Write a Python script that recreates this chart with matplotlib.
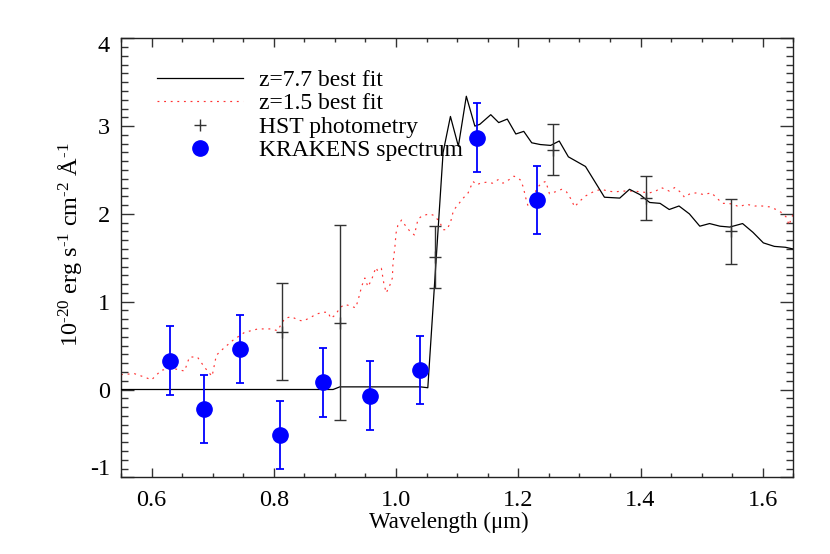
import matplotlib
matplotlib.use("Agg")
import matplotlib.pyplot as plt
from matplotlib.lines import Line2D
from matplotlib.ticker import MultipleLocator, FixedLocator, FormatStrFormatter
from matplotlib.transforms import ScaledTranslation

# ---------------- data ----------------
z77_wave = [0.55, 0.897, 0.908, 1.040, 1.052, 1.077, 1.089, 1.102, 1.115, 1.129,
            1.137, 1.155, 1.168, 1.182, 1.196, 1.209, 1.222, 1.236, 1.253, 1.267,
            1.282, 1.310, 1.341, 1.366, 1.382, 1.399, 1.415, 1.432, 1.447, 1.463,
            1.480, 1.497, 1.513, 1.530, 1.546, 1.567, 1.584, 1.601, 1.619, 1.637, 1.650]
z77_flux = [0.00, 0.00, 0.03, 0.03, 0.02, 2.70, 3.11, 2.77, 3.34, 3.00,
            3.02, 3.13, 3.04, 3.08, 2.91, 2.94, 2.81, 2.79, 2.78, 2.83,
            2.65, 2.54, 2.19, 2.18, 2.28, 2.22, 2.13, 2.12, 2.05, 2.09,
            2.00, 1.86, 1.89, 1.86, 1.85, 1.89, 1.79, 1.67, 1.63, 1.62, 1.60]

z15_wave = [0.550, 0.572, 0.589, 0.600, 0.616, 0.635, 0.654, 0.662, 0.675, 0.687,
            0.699, 0.706, 0.718, 0.733, 0.752, 0.774, 0.796, 0.806, 0.818, 0.829,
            0.840, 0.848, 0.860, 0.870, 0.881, 0.889, 0.893, 0.901, 0.908, 0.916,
            0.926, 0.934, 0.938, 0.944, 0.949, 0.954, 0.960, 0.967, 0.970, 0.976,
            0.980, 0.984, 0.990, 0.994, 0.995, 0.998, 1.000, 1.003, 1.009, 1.016,
            1.023, 1.030, 1.033, 1.036, 1.043, 1.055, 1.063, 1.072, 1.077, 1.083,
            1.089, 1.094, 1.102, 1.110, 1.118, 1.126, 1.132, 1.138, 1.147, 1.158,
            1.167, 1.175, 1.185, 1.193, 1.203, 1.208, 1.213, 1.216, 1.222, 1.230,
            1.238, 1.245, 1.251, 1.260, 1.271, 1.279, 1.287, 1.292, 1.300, 1.309,
            1.317, 1.325, 1.336, 1.347, 1.358, 1.369, 1.379, 1.390, 1.401, 1.415,
            1.425, 1.434, 1.447, 1.456, 1.465, 1.472, 1.481, 1.492, 1.503, 1.516,
            1.525, 1.534, 1.543, 1.552, 1.561, 1.573, 1.587, 1.599, 1.611, 1.622,
            1.632, 1.639, 1.643, 1.647, 1.650]
z15_flux = [0.17, 0.18, 0.14, 0.11, 0.22, 0.24, 0.21, 0.37, 0.37, 0.25,
            0.15, 0.39, 0.47, 0.56, 0.65, 0.69, 0.69, 0.67, 0.81, 0.83,
            0.79, 0.78, 0.82, 0.86, 0.88, 0.88, 0.81, 0.85, 0.93, 0.97,
            0.95, 0.93, 1.02, 1.18, 1.27, 1.17, 1.25, 1.39, 1.35, 1.38,
            1.21, 1.10, 1.19, 1.27, 1.44, 1.61, 1.78, 1.87, 1.93, 1.86,
            1.80, 1.76, 1.85, 1.94, 1.98, 2.00, 1.98, 1.90, 1.82, 1.82,
            1.90, 2.04, 2.11, 2.18, 2.24, 2.37, 2.33, 2.35, 2.36, 2.35,
            2.39, 2.35, 2.39, 2.43, 2.39, 2.31, 2.16, 2.09, 2.10, 2.29,
            2.35, 2.37, 2.23, 2.25, 2.28, 2.25, 2.16, 2.08, 2.14, 2.20,
            2.23, 2.26, 2.28, 2.26, 2.25, 2.26, 2.26, 2.26, 2.25, 2.24,
            2.26, 2.30, 2.26, 2.30, 2.25, 2.19, 2.23, 2.24, 2.22, 2.24,
            2.18, 2.12, 2.12, 2.11, 2.08, 2.11, 2.09, 2.09, 2.08, 2.05,
            2.01, 1.96, 1.87, 1.96, 1.99]

hst_wave = [0.814, 0.908, 1.064, 1.257, 1.409, 1.548]
hst_flux = [0.66, 0.76, 1.51, 2.73, 2.18, 1.80]
hst_err = [0.55, 1.11, 0.35, 0.29, 0.25, 0.37]

kr_wave = [0.630, 0.686, 0.745, 0.810, 0.880, 0.957, 1.040, 1.133, 1.231]
kr_flux = [0.33, -0.22, 0.46, -0.52, 0.08, -0.07, 0.22, 2.87, 2.16]
kr_err = [0.39, 0.39, 0.39, 0.39, 0.39, 0.39, 0.39, 0.39, 0.39]

y_ticks = [-1, 0, 1, 2, 3, 4]
legend_labels = ["z=7.7 best fit", "z=1.5 best fit", "HST photometry", "KRAKENS spectrum"]

# ---------------- style ----------------
SERIF = "Liberation Serif"
plt.rcParams["font.family"] = [SERIF, "DejaVu Serif"]
plt.rcParams["mathtext.fontset"] = "custom"
plt.rcParams["mathtext.rm"] = SERIF
plt.rcParams["mathtext.it"] = SERIF + ":italic"
plt.rcParams["mathtext.bf"] = SERIF + ":bold"
plt.rcParams["axes.unicode_minus"] = False

RED = "#ff3333"
RED_LS = (0, (1.6, 4.0))
HST_C = "#333333"

fig = plt.figure(figsize=(8.30, 5.54), dpi=100)
ax = fig.add_axes([121 / 830, 1 - 477.3 / 554, (793.3 - 121) / 830, (477.3 - 38.3) / 554])

ax.plot(z15_wave, z15_flux, color=RED, lw=0.85, ls=RED_LS, zorder=2)
ax.plot(z77_wave, z77_flux, color="black", lw=0.9, zorder=3)
ax.errorbar(hst_wave, hst_flux, yerr=hst_err, fmt="+", color=HST_C, ms=9,
            mew=1.0, elinewidth=1.0, capsize=4, capthick=1.0, zorder=4)
ax.errorbar(kr_wave, kr_flux, yerr=kr_err, fmt="o", color="blue", ms=11,
            elinewidth=1.3, capsize=3, capthick=1.3, zorder=5)

ax.set_xlim(0.55, 1.65)
ax.set_ylim(-1, 4)
ax.xaxis.set_major_locator(MultipleLocator(0.2))
ax.xaxis.set_minor_locator(MultipleLocator(0.05))
ax.yaxis.set_major_locator(FixedLocator(y_ticks))
ax.yaxis.set_minor_locator(MultipleLocator(0.1))
ax.xaxis.set_major_formatter(FormatStrFormatter("%.1f"))
ax.yaxis.set_major_formatter(FormatStrFormatter("%d"))

ax.tick_params(axis="both", which="both", direction="in", top=True, right=True,
               labelsize=17.5, color="#333333")
ax.tick_params(axis="x", which="major", length=6.3, width=1.0, pad=9)
ax.tick_params(axis="x", which="minor", length=3.2, width=1.0)
ax.tick_params(axis="y", which="major", length=9.7, width=1.0, pad=8)
ax.tick_params(axis="y", which="minor", length=4.8, width=1.0)
for s in ax.spines.values():
    s.set_linewidth(1.0)
    s.set_color("#222222")

ax.set_xlabel("Wavelength (\u03bcm)", fontsize=16.5)
ax.xaxis.set_label_coords(0.487, -0.078)
HY = "\u2010"
ax.set_ylabel("10$^{\\mathregular{" + HY + "20}}$ erg s$^{\\mathregular{" + HY + "1}}$ cm$^{\\mathregular{"
              + HY + "2}}$ \u00c5$^{\\mathregular{" + HY + "1}}$", fontsize=17.5)
ax.yaxis.set_label_coords(-0.055, 0.53)

# IDL-style: end labels nudged inside the axis range
fig.canvas.draw()
ticks = ax.yaxis.get_major_ticks()
ticks[-1].label1.set_transform(ticks[-1].label1.get_transform()
                               + ScaledTranslation(0, -6 / 100, fig.dpi_scale_trans))
ticks[0].label1.set_transform(ticks[0].label1.get_transform()
                              + ScaledTranslation(0, 10 / 100, fig.dpi_scale_trans))

handles = [Line2D([], [], color="black", lw=0.9),
           Line2D([], [], color=RED, lw=0.85, ls=RED_LS),
           Line2D([], [], ls="none", marker="+", color=HST_C, ms=9, mew=1.0),
           Line2D([], [], ls="none", marker="o", color="blue", ms=11)]
ax.legend(handles, legend_labels, loc="upper left", bbox_to_anchor=(0.053, 0.929),
          frameon=False, fontsize=17, handlelength=3.64, handletextpad=0.68,
          labelspacing=0.08, borderpad=0, borderaxespad=0, numpoints=1)

fig.savefig("out.png", dpi=100)
